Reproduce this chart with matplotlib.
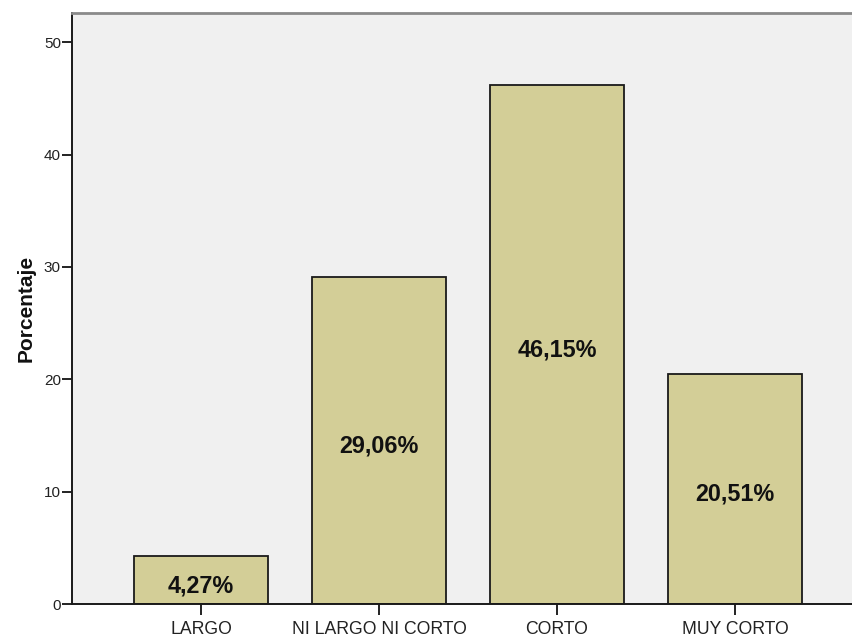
import matplotlib
matplotlib.use("Agg")
import matplotlib.pyplot as plt

categories = ["LARGO", "NI LARGO NI CORTO", "CORTO", "MUY CORTO"]
values = [4.27, 29.06, 46.15, 20.51]
labels = ["4,27%", "29,06%", "46,15%", "20,51%"]
yticks = [0, 10, 20, 30, 40, 50]

plt.rcParams['font.family'] = ['Liberation Sans', 'DejaVu Sans']

fig = plt.figure(figsize=(8.53, 6.37), dpi=100)
ax = fig.add_axes([72/853, 33/637, 1 - 72/853, (604-13)/637])
ax.set_facecolor('#f0f0f0')

x = list(range(len(categories)))
bars = ax.bar(x, values, width=0.753, color='#d3ce97', edgecolor='#1a1a1a', linewidth=1.3, zorder=2)
for xi, v, lab in zip(x, values, labels):
    ax.annotate(lab, xy=(xi, v / 2), xytext=(0, -4), textcoords='offset points',
                ha='center', va='center', fontsize=16.8, fontweight='bold', color='#111111', zorder=3)

ax.set_xlim(-0.725, 3.663)
ax.set_ylim(0, 52.6)
ax.set_xticks(x)
ax.set_xticklabels(categories, fontsize=12.7, color='#222222')
ax.set_yticks(yticks)
ax.set_yticklabels([str(t) for t in yticks], fontsize=11, color='#222222')
ax.tick_params(axis='y', length=7, width=1.4, pad=1, colors='#222222')
ax.tick_params(axis='x', length=8, width=1.4, pad=4, colors='#222222')
ax.set_ylabel('Porcentaje', fontsize=15, fontweight='bold', labelpad=6, color='#111111')

ax.spines['right'].set_visible(False)
ax.spines['top'].set_color('#8a8a8a')
ax.spines['top'].set_linewidth(2)
ax.spines['left'].set_color('#1a1a1a')
ax.spines['left'].set_linewidth(1.4)
ax.spines['bottom'].set_color('#1a1a1a')
ax.spines['bottom'].set_linewidth(1.4)

fig.savefig('out.png', dpi=100, facecolor='white')
